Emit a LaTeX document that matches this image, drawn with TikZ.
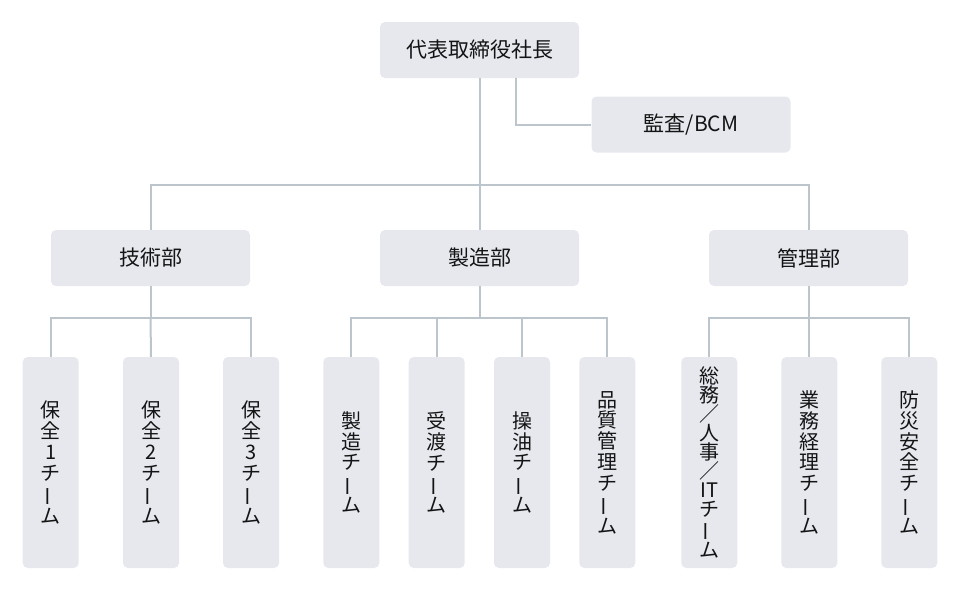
\documentclass[tikz,border=0pt]{standalone}
\usepackage{fontspec}
\setmainfont{Noto Sans CJK JP}
\definecolor{boxgray}{HTML}{E6E8EE}
\definecolor{linegray}{HTML}{BDC5CC}
\newcommand{\chouon}{\rotatebox[origin=c]{90}{ー}}
\tikzset{
  wide/.style={fill=boxgray, rounded corners=5pt, minimum width=199pt, minimum height=56pt, inner sep=0pt, text=black!92, font=\fontsize{21}{24}\selectfont},
  tall/.style={fill=boxgray, rounded corners=5pt, minimum width=56pt, minimum height=211pt, inner sep=0pt, align=center, text=black!92, font=\fontsize{20}{20.8}\selectfont},
  conn/.style={draw=linegray, line width=2pt}
}
\begin{document}
\begin{tikzpicture}[x=1pt, y=-1pt]
	\useasboundingbox (0,0) rectangle (960,600);
	% top
	\node[wide] (ceo) at (479.5,50) {代表取締役社長};
	\node[wide] (audit) at (691,124.5) {監査/BCM};
	% departments
	\node[wide] (tech) at (150.5,258) {技術部};
	\node[wide] (mfg) at (479.5,258) {製造部};
	\node[wide] (adm) at (808.5,258) {管理部};
	% teams
	\node[tall] (t1) at (50.7,462.5) {保\\全\\1\\チ\\\chouon\\ム};
	\node[tall] (t2) at (151,462.5) {保\\全\\2\\チ\\\chouon\\ム};
	\node[tall] (t3) at (251,462.5) {保\\全\\3\\チ\\\chouon\\ム};
	\node[tall] (m1) at (351.3,462.5) {製\\造\\チ\\\chouon\\ム};
	\node[tall] (m2) at (436.7,462.5) {受\\渡\\チ\\\chouon\\ム};
	\node[tall] (m3) at (522,462.5) {操\\油\\チ\\\chouon\\ム};
	\node[tall] (m4) at (607.3,462.5) {品\\質\\管\\理\\チ\\\chouon\\ム};
	\node[tall, font=\fontsize{20}{19}\selectfont] (a1) at (709.3,462.5) {総\\務\\／\\人\\事\\／\\IT\\チ\\\chouon\\ム};
	\node[tall] (a2) at (809.3,462.5) {業\\務\\経\\理\\チ\\\chouon\\ム};
	\node[tall] (a3) at (909.3,462.5) {防\\災\\安\\全\\チ\\\chouon\\ム};
	% connectors
	\coordinate (busA) at (479.5,185);
	\coordinate (busT) at (150.5,318);
	\coordinate (busM) at (479.5,318);
	\coordinate (busD) at (808.5,318);
	\draw[conn] (ceo.south) -- (busA);
	\draw[conn] ([xshift=36pt]ceo.south) |- (audit.west);
	\draw[conn] (tech.north) |- (busA) -| (adm.north);
	\draw[conn] (busA) -- (mfg.north);
	\draw[conn] (tech.south) -- (busT);
	\draw[conn] (t1.north) |- (busT) -| (t3.north);
	\draw[conn] (busT) -- (t2.north);
	\draw[conn] (mfg.south) -- (busM);
	\draw[conn] (m1.north) |- (busM) -| (m4.north);
	\draw[conn] (m2.north) -- (m2.north |- busM);
	\draw[conn] (m3.north) -- (m3.north |- busM);
	\draw[conn] (adm.south) -- (busD);
	\draw[conn] (a1.north) |- (busD) -| (a3.north);
	\draw[conn] (a2.north) -- (a2.north |- busD);
\end{tikzpicture}
\end{document}
